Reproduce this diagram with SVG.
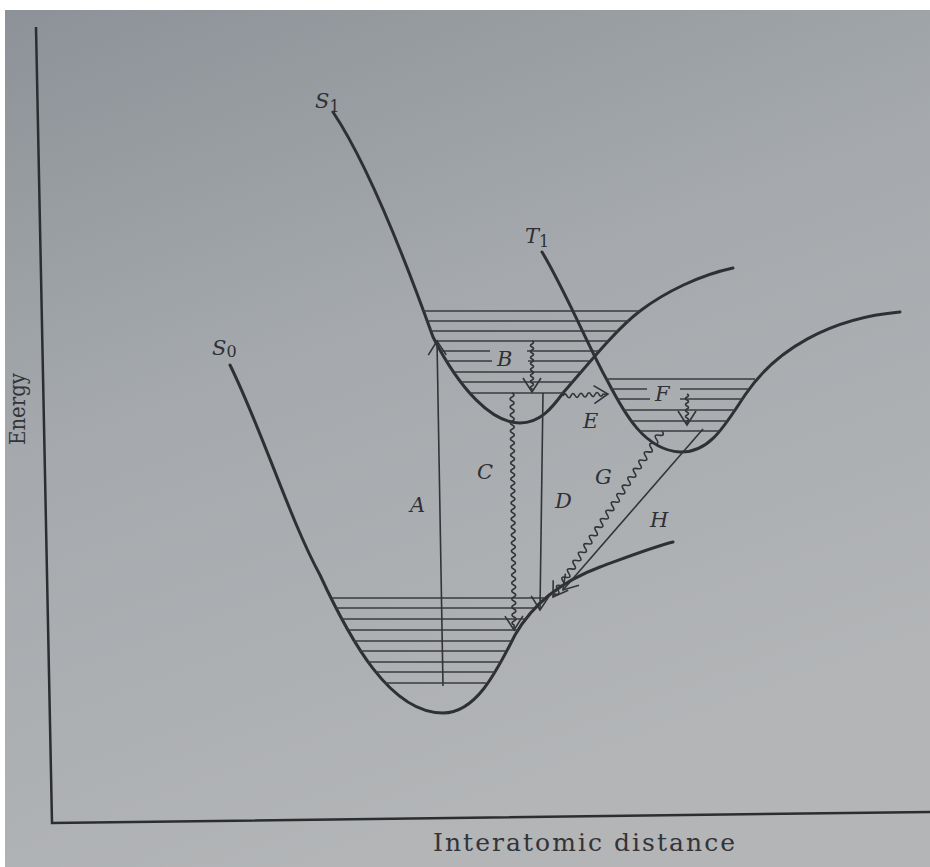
<svg xmlns="http://www.w3.org/2000/svg" width="930" height="867" viewBox="0 0 930 867">
<defs>
<linearGradient id="bg" x1="0" y1="0" x2="0.4" y2="1">
<stop offset="0" stop-color="#8c9297"/>
<stop offset="0.45" stop-color="#a5a9ad"/>
<stop offset="1" stop-color="#b3b5b7"/>
</linearGradient>
<marker id="ah" markerUnits="userSpaceOnUse" markerWidth="18" markerHeight="22" viewBox="0 0 18 22" refX="16" refY="11" orient="auto">
<path d="M2,2 L16,11 L2,20" fill="none" stroke="#333437" stroke-width="1.6"/>
</marker>
<style>
.curve{fill:none;stroke:#2f3033;stroke-width:3;stroke-linecap:round;stroke-linejoin:round}
.lev{fill:none;stroke:#3a3b3e;stroke-width:1.6}
.tr{fill:none;stroke:#333437;stroke-width:1.6;marker-end:url(#ah)}
.lab{font-family:"DejaVu Serif","Liberation Serif",serif;font-style:italic;font-size:21px;fill:#2f3033}
.sub{font-style:normal;font-size:16px}
.ax{font-family:"DejaVu Serif","Liberation Serif",serif;fill:#333437}
</style>
</defs>
<rect width="930" height="867" fill="#ffffff"/>
<rect x="5" y="10" width="925" height="857" fill="url(#bg)"/>

<g id="axes">
<path d="M36,27 L52,823 L930,812" fill="none" stroke="#2c2d30" stroke-width="2.5"/>
<text class="ax" font-size="22" transform="translate(25,445) rotate(-90)" textLength="72" lengthAdjust="spacingAndGlyphs">Energy</text>
<text class="ax" font-size="25" x="433" y="851" textLength="302" lengthAdjust="spacing">Interatomic distance</text>
</g>

<g id="S0">
<path class="curve" d="M230,365 C262,430 290,520 320,575 C350,640 390,713 443,713 C475,713 495,675 515,635 C535,600 565,580 600,567 C630,556 650,548 673,542"/>
<path class="lev" d="M331,598 H545 M336,608 H534 M341,619 H526 M348,630 H518 M354,641 H511 M360,651 H506 M368,662 H501 M376,672 H495 M385,683 H486"/>
<text class="lab" x="212" y="355">S<tspan class="sub" font-size="17" dy="2">0</tspan></text>
</g>

<g id="S1">
<path class="curve" d="M333,112 C365,160 400,245 433,337 C460,390 492,423 520,423 C540,423 552,408 563,393 C585,368 615,330 640,311 C665,292 700,275 733,268"/>
<path class="lev" d="M423,311 H640 M427,321 H629 M431,331 H618 M436,341 H609 M441,351 H490 M527,351 H599 M446,361 H492 M528,361 H590 M454,372 H581 M461,382 H573 M470,393 H563"/>
<text class="lab" x="315" y="108">S<tspan class="sub" dy="4">1</tspan></text>
</g>

<g id="T1">
<path class="curve" d="M542,252 C565,290 590,350 607,380 C625,415 645,450 680,452 C710,453 725,425 745,395 C775,350 830,318 900,312"/>
<path class="lev" d="M606,379 H755 M611,389 H647 M680,389 H749 M617,399 H650 M680,399 H743 M624,410 H735 M631,421 H727 M640,431 H720"/>
<text class="lab" x="525" y="243">T<tspan class="sub" dy="4">1</tspan></text>
</g>

<g id="connectors">
<path id="A" class="tr" d="M443,686 L437,341"/>
<path id="B" class="tr" transform="translate(532,341) rotate(90)" d="M0,0 q1.5,-3 3,0 t3,0 t3,0 t3,0 t3,0 t3,0 t3,0 t3,0 t3,0 t3,0 t3,0 t3,0 t3,0 t3,0 t3,0 t3,0 l3,0"/>
<path id="C" class="tr" transform="translate(512,393) rotate(89.5)" d="M0,0 q2,-4 4,0 t4,0 t4,0 t4,0 t4,0 t4,0 t4,0 t4,0 t4,0 t4,0 t4,0 t4,0 t4,0 t4,0 t4,0 t4,0 t4,0 t4,0 t4,0 t4,0 t4,0 t4,0 t4,0 t4,0 t4,0 t4,0 t4,0 t4,0 t4,0 t4,0 t4,0 t4,0 t4,0 t4,0 t4,0 t4,0 t4,0 t4,0 t4,0 t4,0 t4,0 t4,0 t4,0 t4,0 t4,0 t4,0 t4,0 t4,0 t4,0 t4,0 t4,0 t4,0 t4,0 t4,0 t4,0 t4,0 t4,0 t4,0 l5,0"/>
<path id="D" class="tr" d="M543,393 L540,610"/>
<path id="E" class="tr" transform="translate(563,396) rotate(-2.6)" d="M0,0 q2,-4 4,0 t4,0 t4,0 t4,0 t4,0 t4,0 t4,0 t4,0 t4,0 t4,0 l5,0"/>
<path id="F" class="tr" transform="translate(687,394) rotate(90)" d="M0,0 q1.5,-3 3,0 t3,0 t3,0 t3,0 t3,0 t3,0 t3,0 t3,0 t3,0 l4,0"/>
<path id="G" class="tr" transform="translate(662,431) rotate(123.3)" d="M0,0 q2.5,-6 5,0 t5,0 t5,0 t5,0 t5,0 t5,0 t5,0 t5,0 t5,0 t5,0 t5,0 t5,0 t5,0 t5,0 t5,0 t5,0 t5,0 t5,0 t5,0 t5,0 t5,0 t5,0 t5,0 t5,0 t5,0 t5,0 t5,0 t5,0 t5,0 t5,0 t5,0 t5,0 t5,0 t5,0 t5,0 t5,0 t5,0 t5,0 t5,0 l3.5,0"/>
<path id="H" class="tr" d="M703,429 L563,590"/>
<text class="lab" x="410" y="512">A</text>
<text class="lab" x="497" y="366">B</text>
<text class="lab" x="477" y="479">C</text>
<text class="lab" x="555" y="508">D</text>
<text class="lab" x="583" y="428">E</text>
<text class="lab" x="655" y="401">F</text>
<text class="lab" x="595" y="484">G</text>
<text class="lab" x="650" y="527">H</text>
</g>
</svg>
